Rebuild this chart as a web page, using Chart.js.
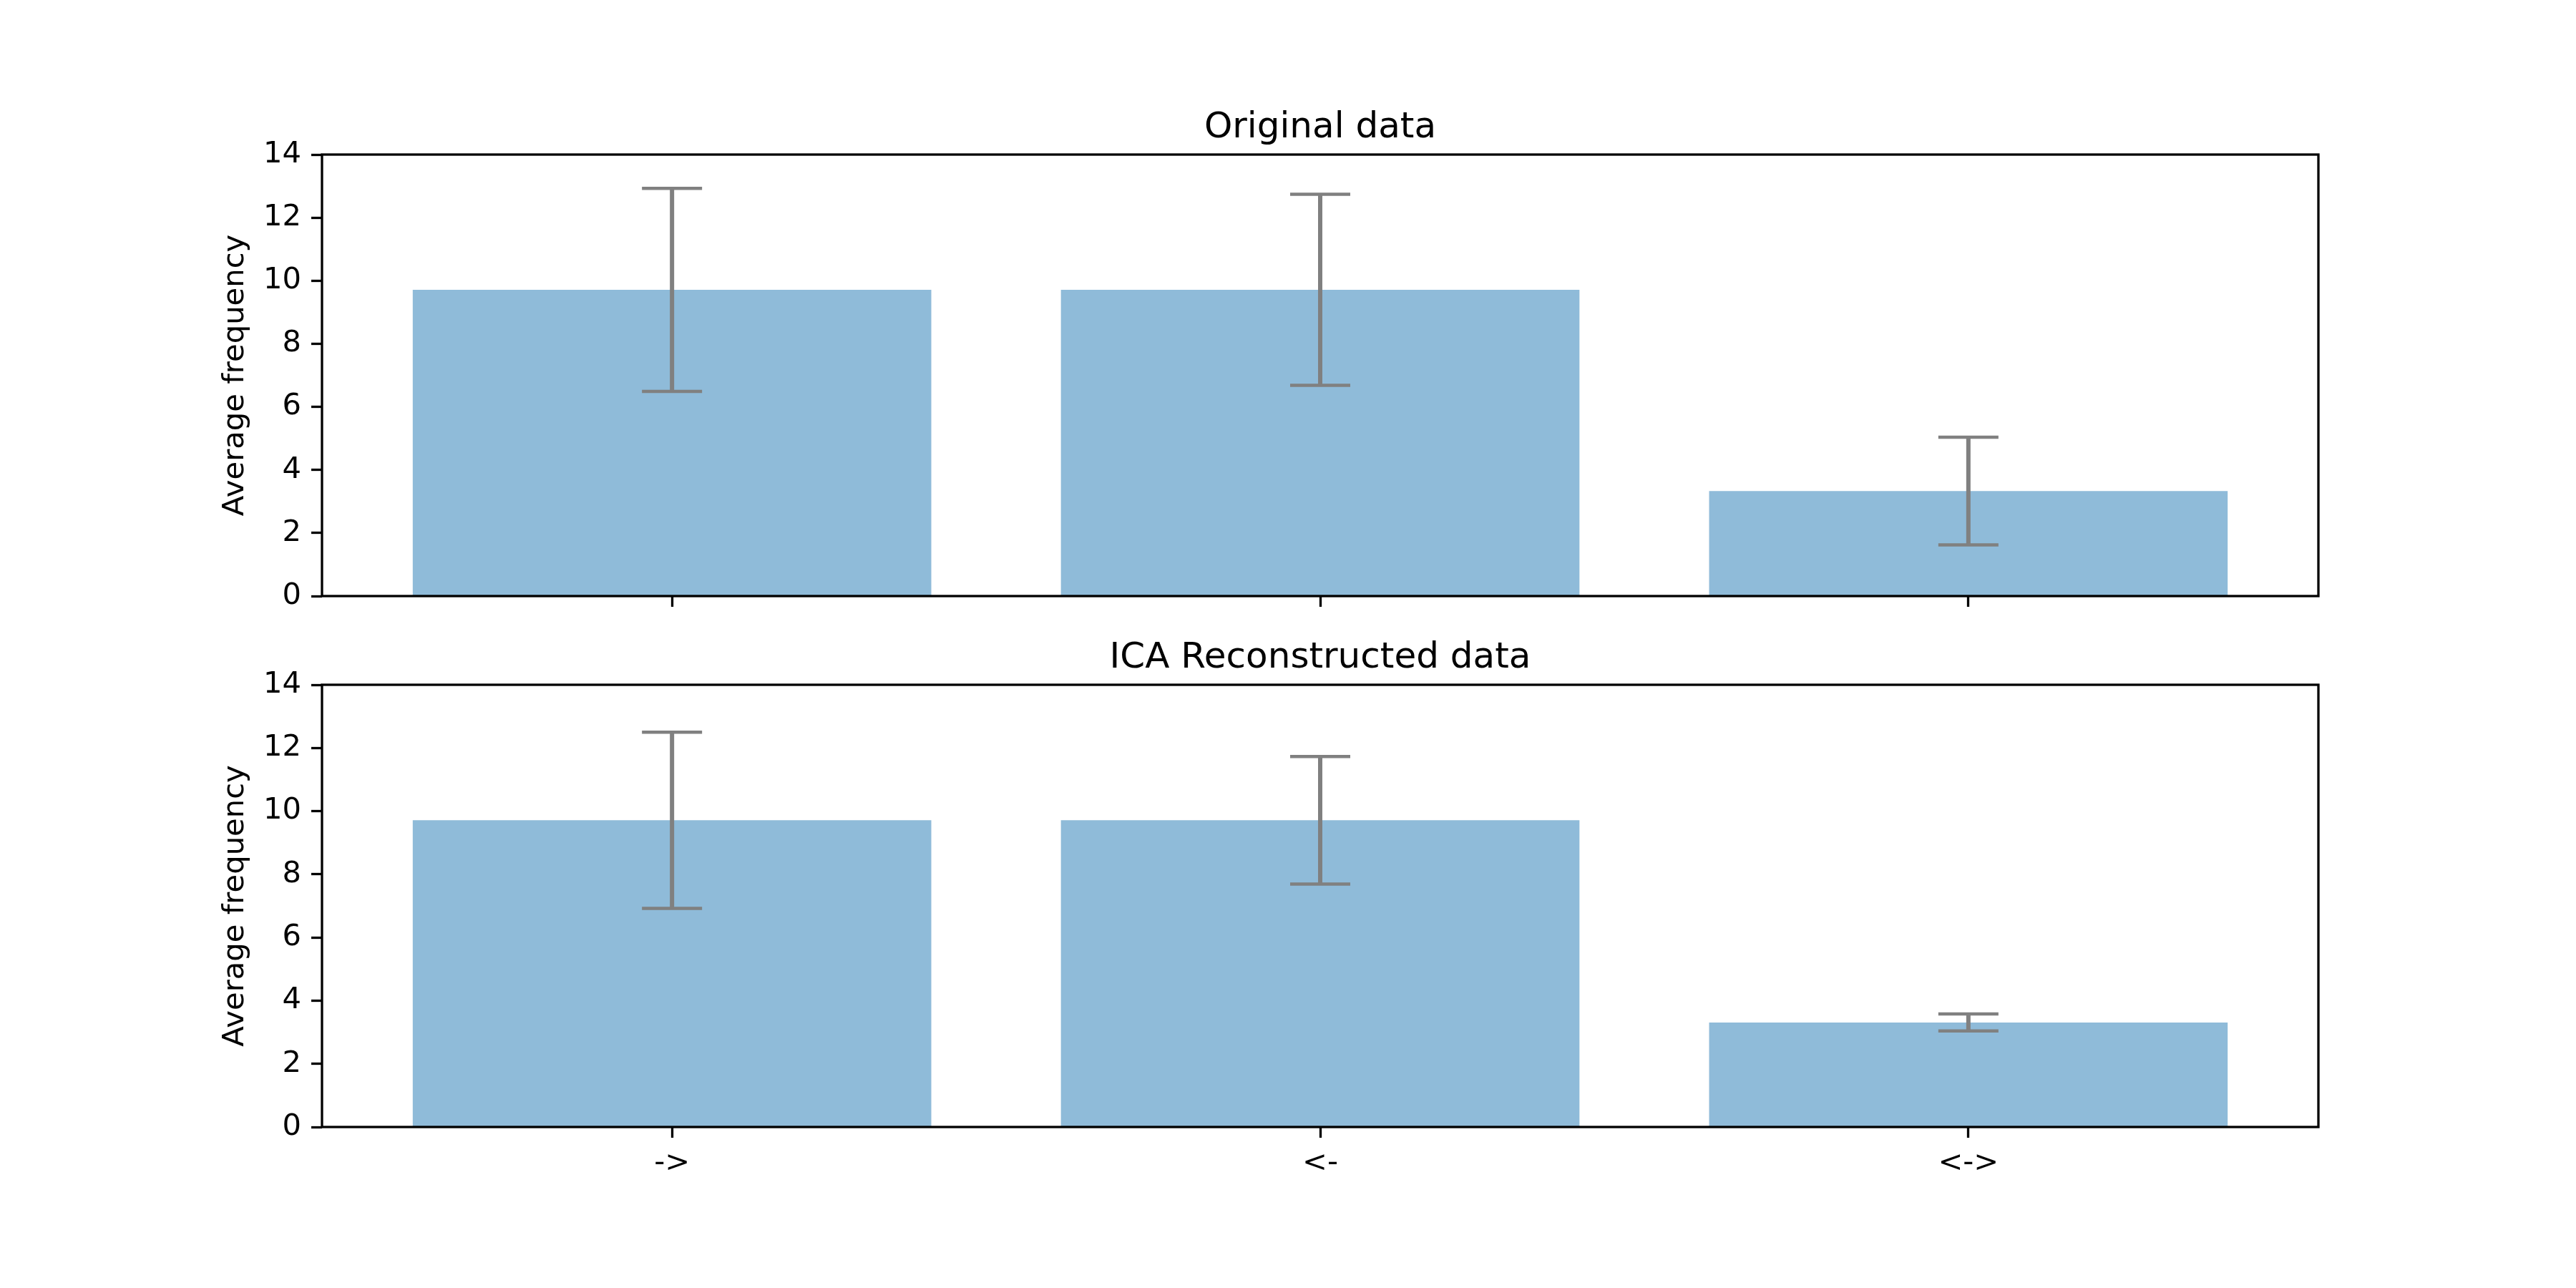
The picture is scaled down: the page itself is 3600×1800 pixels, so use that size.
<!DOCTYPE html>
<html lang="en">
<head>
<meta charset="UTF-8">
<title>Original vs ICA Reconstructed data</title>
<style>
    body {
        margin: 0;
        background: #fff;
    }
    .wrap {
        position: relative;
        width: 3600px;
        height: 1800px;
    }
    canvas {
        position: absolute;
        left: 0;
    }
    #topChart { top: 0; }
    #bottomChart { top: 880px; }
</style>
</head>
<body>
<div class="wrap">
    <canvas id="topChart" width="3600" height="880"></canvas>
    <canvas id="bottomChart" width="3600" height="920"></canvas>
</div>

<script src="https://cdn.jsdelivr.net/npm/chart.js"></script>
<script>
    // categories on the x axis
    const categories = ['->', '<-', '<->'];

    // Original data: mean and error per category
    const originalMeans = [9.71, 9.71, 3.33];
    const originalErrors = [3.22, 3.03, 1.71];

    // ICA reconstructed data
    const icaMeans = [9.71, 9.71, 3.31];
    const icaErrors = [2.79, 2.02, 0.27];

    // y axis ticks
    const yMin = 0;
    const yMax = 14;
    const yStep = 2;

    Chart.defaults.font.family = "'DejaVu Sans', sans-serif";
    Chart.defaults.color = '#000';

    // draws the grey error bars with caps on top of the bars
    const errorBars = {
        id: 'errorBars',
        afterDatasetsDraw(chart, args, opts) {
            const ctx = chart.ctx;
            const x = chart.scales.x;
            const y = chart.scales.y;
            ctx.save();
            ctx.strokeStyle = '#808080';
            opts.means.forEach((m, i) => {
                const px = x.getPixelForValue(i);
                const top = y.getPixelForValue(m + opts.errors[i]);
                const bot = y.getPixelForValue(m - opts.errors[i]);
                ctx.lineWidth = 6;
                ctx.beginPath();
                ctx.moveTo(px, top);
                ctx.lineTo(px, bot);
                ctx.stroke();
                ctx.lineWidth = 4.5;
                ctx.beginPath();
                ctx.moveTo(px - 42, top);
                ctx.lineTo(px + 42, top);
                ctx.moveTo(px - 42, bot);
                ctx.lineTo(px + 42, bot);
                ctx.stroke();
            });
            ctx.restore();
        }
    };

    // black frame round the plot area
    const frame = {
        id: 'frame',
        afterDraw(chart) {
            const a = chart.chartArea;
            const ctx = chart.ctx;
            ctx.save();
            ctx.strokeStyle = '#000';
            ctx.lineWidth = 3.3;
            ctx.strokeRect(a.left, a.top, a.right - a.left, a.bottom - a.top);
            ctx.restore();
        }
    };

    function makeConfig(title, means, errors, showLabels, titleTop, xAxisHeight) {
        return {
            type: 'bar',
            data: {
                datasets: [{
                    data: means.map((m, i) => ({ x: i, y: m })),
                    backgroundColor: 'rgba(31, 119, 180, 0.5)',
                    borderWidth: 0,
                    barPercentage: 0.8,
                    categoryPercentage: 1.0
                }]
            },
            options: {
                responsive: false,
                devicePixelRatio: 1,
                animation: false,
                layout: { padding: { left: 0, right: 360, top: 0, bottom: 0 } },
                plugins: {
                    legend: { display: false },
                    tooltip: { enabled: false },
                    title: {
                        display: true,
                        text: title,
                        fullSize: false,
                        color: '#000',
                        font: { size: 50, weight: 'normal' },
                        padding: { top: titleTop, bottom: 7 }
                    },
                    errorBars: { means: means, errors: errors }
                },
                scales: {
                    x: {
                        type: 'linear',
                        min: -0.54,
                        max: 2.54,
                        offset: false,
                        afterBuildTicks: (scale) => {
                            scale.ticks = categories.map((c, i) => ({ value: i }));
                        },
                        afterFit: (scale) => { scale.height = xAxisHeight; },
                        ticks: {
                            autoSkip: false,
                            maxRotation: 0,
                            padding: 11,
                            font: { size: 41.7 },
                            callback: (v) => showLabels ? categories[v] : ''
                        },
                        grid: {
                            offset: false,
                            drawOnChartArea: false,
                            drawTicks: true,
                            tickLength: 15,
                            tickWidth: 3.3,
                            tickColor: '#000',
                            color: '#000'
                        },
                        border: { display: false }
                    },
                    y: {
                        min: yMin,
                        max: yMax,
                        afterFit: (scale) => { scale.width = 450; },
                        ticks: {
                            stepSize: yStep,
                            padding: 14,
                            font: { size: 41.7 }
                        },
                        title: {
                            display: true,
                            text: 'Average frequency',
                            font: { size: 41.7 },
                            padding: { top: 304, bottom: 0 }
                        },
                        grid: {
                            drawOnChartArea: false,
                            drawTicks: true,
                            tickLength: 15,
                            tickWidth: 3.3,
                            tickColor: '#000',
                            color: '#000'
                        },
                        border: { display: false }
                    }
                }
            },
            plugins: [errorBars, frame]
        };
    }

    new Chart(document.getElementById('topChart'),
        makeConfig('Original data', originalMeans, originalErrors, false, 149, 47));
    new Chart(document.getElementById('bottomChart'),
        makeConfig('ICA Reconstructed data', icaMeans, icaErrors, true, 10, 225));
</script>
</body>
</html>
